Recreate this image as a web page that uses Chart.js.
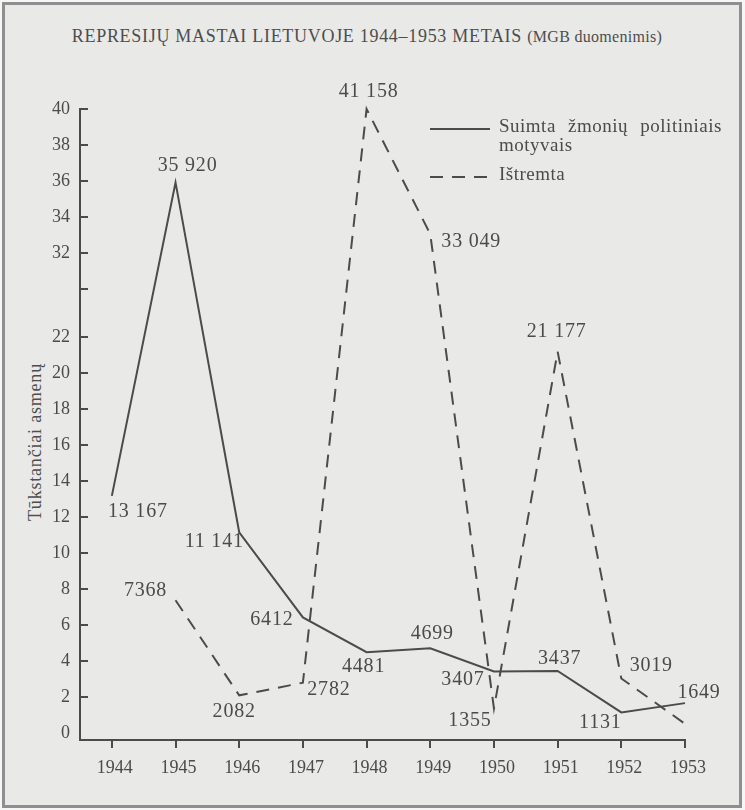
<!DOCTYPE html>
<html lang="lt">
<head>
<meta charset="utf-8">
<script src="https://cdn.jsdelivr.net/npm/chart.js@4.4.1/dist/chart.umd.min.js"></script>
<style>
  html, body { margin: 0; padding: 0; background: #f6f6f6; }
  body { width: 745px; height: 810px; position: relative; overflow: hidden; font-family: "Liberation Serif", serif; color: #4d4d4d; }
  .frame { position: absolute; left: 2px; top: 2px; width: 740px; height: 806px; box-sizing: border-box; border: 3px solid #8f8f8f; background: #e9e9e8; }
  .title { position: absolute; left: 0; top: 26px; width: 734px; text-align: center; font-size: 18px; letter-spacing: 0.7px; white-space: nowrap; }
  .title small { font-size: 16px; letter-spacing: 0.3px; }
  .ytitle { position: absolute; left: 35px; top: 442px; transform: translate(-50%, -50%) rotate(-90deg); font-size: 18px; letter-spacing: 0.8px; white-space: nowrap; }
  canvas { position: absolute; left: 0; top: 0; }
</style>
</head>
<body>
<div class="frame"></div>
<div class="title">REPRESIJŲ MASTAI LIETUVOJE 1944–1953 METAIS <small>(MGB duomenimis)</small></div>
<div class="ytitle">Tūkstančiai asmenų</div>
<canvas id="chart" width="745" height="810"></canvas>
<script>
const YEARS = [1944, 1945, 1946, 1947, 1948, 1949, 1950, 1951, 1952, 1953];

// thousands of people
const ARRESTED = [13.167, 35.92, 11.141, 6.412, 4.481, 4.699, 3.407, 3.437, 1.131, 1.649];
const DEPORTED = [null, 7.368, 2.082, 2.782, 41.158, 33.049, 1.355, 21.177, 3.019, 0.5];

const SERIES_NAMES = [["Suimta žmonių politiniais", "motyvais"], ["Ištremta"]];

// axis is broken between 22 and 30; 30 carries a tick but no label
const Y_TICKS = [0, 2, 4, 6, 8, 10, 12, 14, 16, 18, 20, 22, 30, 32, 34, 36, 38, 40];
const Y_UNLABELED = [30];

const INK = "#4b4b4b";
const FONT = "'Liberation Serif', 'Times New Roman', serif";

Chart.defaults.font.family = FONT;
Chart.defaults.color = INK;

/** Linear scale with a collapsed band (gap.from..gap.to shown as gap.size units); values above max sit on the top edge. */
class BrokenScale extends Chart.LinearScale {
  fold(v) {
    const g = this.options.gap;
    if (v <= g.from) {
      return v;
    }
    return Math.min(v, this.options.max) - (g.to - g.from) + g.size;
  }

  determineDataLimits() {
    this.min = this.options.min;
    this.max = this.fold(this.options.max);
  }

  getPixelForValue(value) {
    if (value === null || value === undefined) {
      return NaN;
    }
    return super.getPixelForValue(this.fold(value));
  }
}
BrokenScale.id = "broken";
BrokenScale.defaults = Chart.LinearScale.defaults;
Chart.register(BrokenScale);

function formatCount(v) {
  const s = String(Math.round(v * 1000));
  return s.length > 4 ? s.slice(0, -3) + " " + s.slice(-3) : s;
}

/** Printed counts next to each vertex; offsets are [dx, dy] from the vertex. */
const pointLabels = {
  id: "pointLabels",
  afterDatasetsDraw(chart, args, opts) {
    const { ctx } = chart;
    ctx.save();
    ctx.font = opts.font;
    ctx.fillStyle = opts.color;
    ctx.letterSpacing = opts.letterSpacing;
    ctx.textAlign = "center";
    ctx.textBaseline = "middle";
    chart.data.datasets.forEach((ds, di) => {
      const meta = chart.getDatasetMeta(di);
      const offsets = opts.offsets[di];
      meta.data.forEach((pt, i) => {
        const off = offsets[i];
        if (!off || ds.data[i] == null) {
          return;
        }
        ctx.fillText(formatCount(ds.data[i]), pt.x + off[0], pt.y + off[1]);
      });
    });
    ctx.restore();
  },
};

/** Legend drawn inside the plot area, top right. */
const inlineLegend = {
  id: "inlineLegend",
  afterDraw(chart, args, opts) {
    const { ctx } = chart;
    ctx.save();
    ctx.font = opts.font;
    ctx.fillStyle = opts.color;
    ctx.letterSpacing = opts.letterSpacing;
    ctx.wordSpacing = opts.wordSpacing;
    ctx.textBaseline = "middle";
    opts.rows.forEach((rowY, di) => {
      const ds = chart.data.datasets[di];
      ctx.strokeStyle = ds.borderColor;
      ctx.lineWidth = ds.borderWidth;
      ctx.setLineDash(ds.borderDash || []);
      ctx.beginPath();
      ctx.moveTo(opts.x, rowY);
      ctx.lineTo(opts.x + opts.width, rowY);
      ctx.stroke();
      SERIES_NAMES[di].forEach((line, li) => {
        ctx.fillText(line, opts.x + opts.width + opts.gap, rowY - 2 + li * opts.lineHeight);
      });
    });
    ctx.restore();
  },
};

new Chart(document.getElementById("chart"), {
  type: "line",
  data: {
    labels: YEARS,
    datasets: [
      {
        label: SERIES_NAMES[0].join(" "),
        data: ARRESTED,
        borderColor: INK,
        borderWidth: 2,
        pointRadius: 0,
        tension: 0,
        borderJoinStyle: "miter",
        clip: false,
      },
      {
        label: SERIES_NAMES[1].join(" "),
        data: DEPORTED,
        borderColor: INK,
        borderWidth: 2,
        borderDash: [13, 9],
        pointRadius: 0,
        tension: 0,
        borderJoinStyle: "miter",
        clip: false,
      },
    ],
  },
  options: {
    responsive: false,
    animation: false,
    events: [],
    layout: { padding: { top: 109, right: 60, bottom: 0, left: 0 } },
    plugins: {
      legend: { display: false },
      tooltip: { enabled: false },
      pointLabels: {
        font: `20px ${FONT}`,
        letterSpacing: "0.8px",
        color: INK,
        offsets: [
          [[26, 16], [12, -17], [-25, 9], [-31, 2], [-3, 15], [2, -14], [-31, 8], [2, -12], [-21, 10], [14, -10]],
          [null, [-30, -9], [-5, 16], [26, 7], [2, -17], [41, 8], [-24, 12], [-1, -20], [30, -13], null],
        ],
      },
      inlineLegend: {
        font: `19px ${FONT}`,
        letterSpacing: "0.5px",
        wordSpacing: "7px",
        color: INK,
        x: 430,
        width: 60,
        gap: 9,
        lineHeight: 19,
        rows: [129, 177],
      },
    },
    scales: {
      x: {
        type: "linear",
        position: "bottom",
        min: 1943.5,
        max: 1953,
        afterBuildTicks: (s) => { s.ticks = YEARS.map((v) => ({ value: v })); },
        afterFit: (s) => { s.height = 70; },
        grid: { display: true, drawOnChartArea: false, drawTicks: true, tickLength: 8, color: INK, lineWidth: 2 },
        border: { display: true, color: INK, width: 2 },
        ticks: { color: INK, font: { size: 18 }, padding: 9, labelOffset: 3, autoSkip: false, maxRotation: 0, callback: (v) => String(v) },
      },
      y: {
        type: "broken",
        position: "left",
        min: -0.4,
        max: 40,
        bounds: "data",
        gap: { from: 22, to: 30, size: 2.66 },
        afterBuildTicks: (s) => { s.ticks = Y_TICKS.map((v) => ({ value: v })); },
        afterFit: (s) => { s.width = 80; },
        grid: {
          display: true,
          drawOnChartArea: false,
          drawTicks: true,
          tickLength: -8,
          lineWidth: 2,
          color: (c) => (c.tick && c.tick.value === 0 ? "rgba(0,0,0,0)" : INK),
        },
        border: { display: true, color: INK, width: 2 },
        ticks: {
          color: INK,
          font: { size: 18 },
          padding: 18,
          autoSkip: false,
          callback: (v) => (Y_UNLABELED.includes(v) ? "" : String(v)),
        },
      },
    },
  },
  plugins: [pointLabels, inlineLegend],
});
</script>
</body>
</html>
